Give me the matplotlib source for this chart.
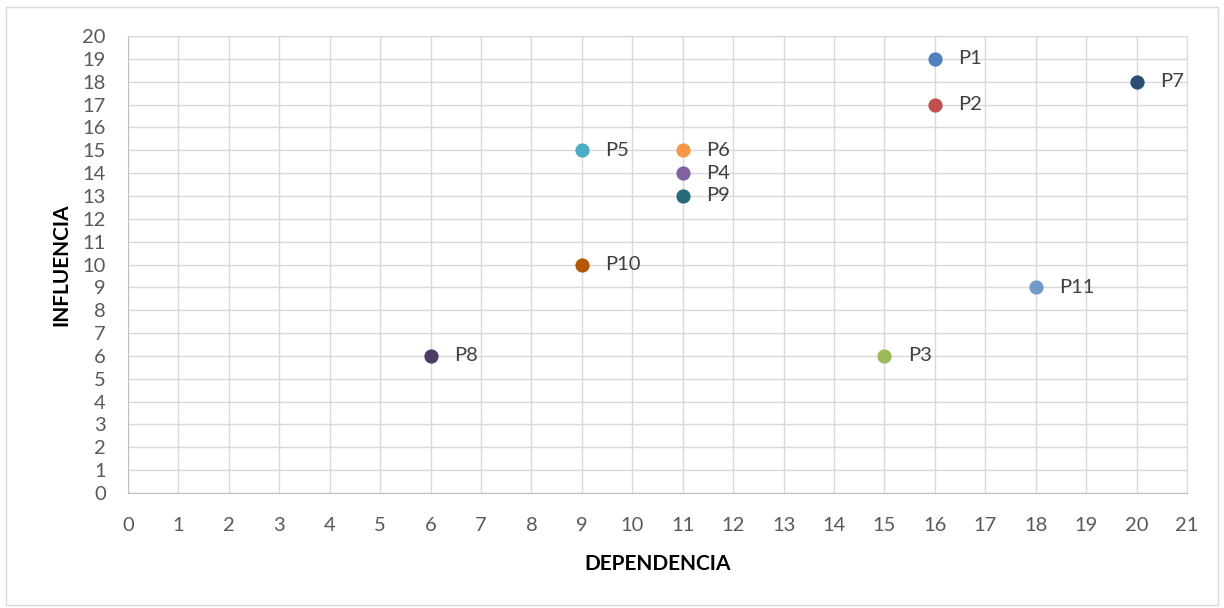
import matplotlib
matplotlib.use("Agg")
import matplotlib.pyplot as plt
from matplotlib.patches import Rectangle

labels = ["P1", "P2", "P3", "P4", "P5", "P6", "P7", "P8", "P9", "P10", "P11"]
dependencia = [16, 16, 15, 11, 9, 11, 20, 6, 11, 9, 18]
influencia = [19, 17, 6, 14, 15, 15, 18, 6, 13, 10, 9]
colors = ["#4F81BD", "#C0504D", "#9BBB59", "#8064A2", "#4BACC6", "#F79646",
          "#2C4D75", "#4D3B62", "#276A7C", "#B65708", "#729ACA"]
x_ticks = list(range(0, 22))
y_ticks = list(range(0, 21))

plt.rcParams['font.family'] = ['Lato', 'DejaVu Sans']

fig = plt.figure(figsize=(12.24, 6.08), dpi=100)
fig.patches.append(Rectangle((6/1224, 3/608), 1212/1224, 598/608, transform=fig.transFigure,
                             fill=False, edgecolor="#D9D9D9", linewidth=1))
ax = fig.add_axes([128/1224, 1 - 493/608, (1187-128)/1224, (493-36)/608])

for x, y, c, lab in zip(dependencia, influencia, colors, labels):
    ax.scatter([x], [y], s=105, color=c, zorder=3, clip_on=False, linewidths=0)
    ax.annotate(lab, (x, y), xytext=(17, 0), textcoords="offset points",
                va="center", ha="left", fontsize=14.5, color="#404040")

ax.set_xlim(0, 21)
ax.set_ylim(0, 20)
ax.set_xticks(x_ticks)
ax.set_yticks(y_ticks)
ax.grid(True, color="#D9D9D9", linewidth=1)
ax.set_axisbelow(True)
for s in ["top", "right"]:
    ax.spines[s].set_color("#D9D9D9")
for s in ["left", "bottom"]:
    ax.spines[s].set_color("#BFBFBF")
ax.tick_params(length=0, labelsize=14.5, colors="#595959")
ax.tick_params(axis="x", pad=17)
ax.tick_params(axis="y", pad=16)
ax.set_xlabel("DEPENDENCIA", fontsize=15, fontweight="bold", labelpad=15)
ax.set_ylabel("INFLUENCIA", fontsize=15, fontweight="bold", labelpad=8)

fig.savefig("out.png", dpi=100)
